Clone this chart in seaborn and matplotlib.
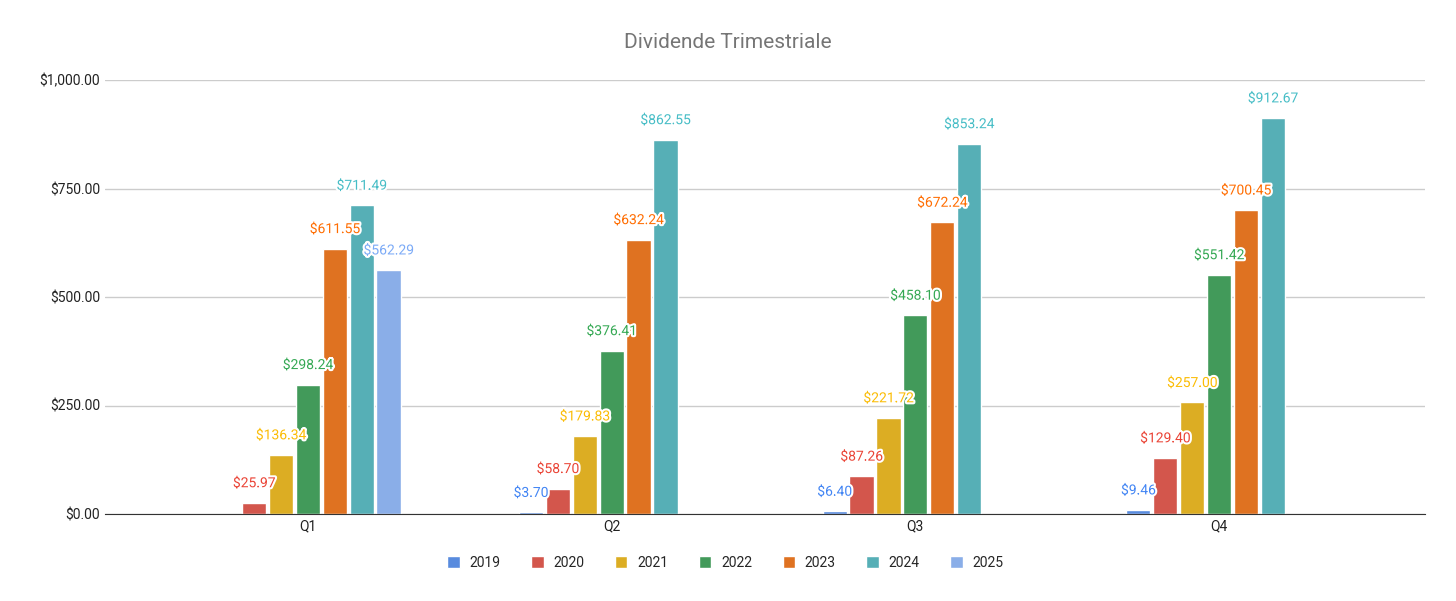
import numpy as np
import pandas as pd
import matplotlib
matplotlib.use('Agg')
import matplotlib.pyplot as plt
import matplotlib.patheffects as pe
from matplotlib.ticker import FuncFormatter
import seaborn as sns

quarters = ['Q1', 'Q2', 'Q3', 'Q4']
years = ['2019', '2020', '2021', '2022', '2023', '2024', '2025']
v2019 = [np.nan, 3.70, 6.40, 9.46]
v2020 = [25.97, 58.70, 87.26, 129.40]
v2021 = [136.34, 179.83, 221.72, 257.00]
v2022 = [298.24, 376.41, 458.10, 551.42]
v2023 = [611.55, 632.24, 672.24, 700.45]
v2024 = [711.49, 862.55, 853.24, 912.67]
v2025 = [562.29, np.nan, np.nan, np.nan]
colors = ['#4285F4', '#EA4335', '#FBBC04', '#34A853', '#FF6D01', '#46BDC6', '#7BAAF7']

series = [v2019, v2020, v2021, v2022, v2023, v2024, v2025]
rows = []
for y, vals in zip(years, series):
    for q, v in zip(quarters, vals):
        rows.append({'quarter': q, 'year': y, 'value': v})
df = pd.DataFrame(rows)

sns.set_style('white')
plt.rcParams['font.family'] = ['Roboto', 'DejaVu Sans']

fig = plt.figure(figsize=(14.56, 6.01), dpi=100)
ax = fig.add_axes([105 / 1456, 1 - 514 / 601, 1320 / 1456, 434 / 601])

sns.barplot(data=df, x='quarter', y='value', hue='year', hue_order=years,
            palette=colors, width=0.62, gap=0.1, ax=ax, legend=True)

# value labels with white halo
for cont, c in zip(ax.containers, colors):
    for bar in cont:
        if bar is None:
            continue
        h = bar.get_height()
        if np.isnan(h):
            continue
        t = ax.annotate(f'${h:,.2f}', (bar.get_x() + bar.get_width() / 2, h),
                        xytext=(0, 9), textcoords='offset points',
                        ha='center', va='bottom', fontsize=10, color=c)
        t.set_path_effects([pe.withStroke(linewidth=3, foreground='white')])

ax.set_xlim(-0.668, 3.678)
ax.set_ylim(0, 1000)
ax.set_yticks([0, 250, 500, 750, 1000])
ax.yaxis.set_major_formatter(FuncFormatter(lambda v, p: f'${v:,.2f}'))
ax.grid(axis='y', color='#cccccc', linewidth=1)
ax.set_axisbelow(True)
for s in ['top', 'right', 'left']:
    ax.spines[s].set_visible(False)
ax.spines['bottom'].set_color('#333333')
ax.tick_params(axis='both', length=0, labelsize=10, colors='#222222')
ax.set_xlabel('')
ax.set_ylabel('')

fig.text(728 / 1456, 1 - 42 / 601, 'Dividende Trimestriale', ha='center', va='center',
         fontsize=15, color='#757575')

handles, labels = ax.get_legend_handles_labels()
ax.legend(handles, labels, loc='center', bbox_to_anchor=(0.47, -0.113), ncol=7,
          frameon=False, fontsize=10, handlelength=0.9, handleheight=0.9,
          columnspacing=2.2, handletextpad=0.7)

fig.savefig('out.png', dpi=100)
